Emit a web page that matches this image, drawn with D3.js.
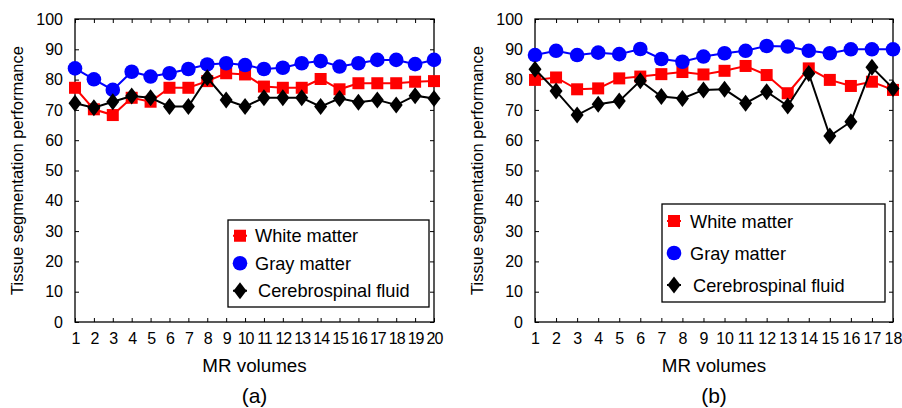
<!DOCTYPE html>
<html>
<head>
<meta charset="utf-8">
<script src="https://cdn.jsdelivr.net/npm/d3@7"></script>
<style>
  body { margin: 0; background: #fff; }
  text { font-family: "Liberation Sans", Arial, Helvetica, sans-serif; }
</style>
</head>
<body>
<script>
(function() {
  const seriesNames = ['White matter', 'Gray matter', 'Cerebrospinal fluid'];
  const yTicks = [0, 10, 20, 30, 40, 50, 60, 70, 80, 90, 100];

  // panel (a): 20 MR volumes
  const volumesA = d3.range(1, 21);
  const whiteA = [77.3, 70.2, 68.3, 74.0, 72.7, 77.3, 77.3, 79.5, 82.1, 81.7,
                  77.7, 77.3, 77.3, 80.2, 76.8, 78.8, 78.8, 78.8, 79.3, 79.5];
  const grayA = [83.7, 80.1, 76.6, 82.6, 81.0, 82.1, 83.5, 85.0, 85.4, 84.8,
                 83.5, 83.9, 85.4, 86.1, 84.3, 85.4, 86.5, 86.5, 85.1, 86.5];
  const csfA = [72.2, 70.7, 72.7, 74.6, 74.0, 71.1, 71.1, 80.6, 73.3, 71.1,
                74.0, 74.0, 74.0, 71.1, 73.8, 72.5, 73.3, 71.6, 74.7, 73.8];

  // panel (b): 18 MR volumes
  const volumesB = d3.range(1, 19);
  const whiteB = [79.9, 80.7, 76.8, 77.1, 80.4, 81.0, 81.8, 82.5, 81.7, 82.9,
                  84.5, 81.5, 75.5, 83.7, 79.9, 77.9, 79.3, 76.6];
  const grayB = [88.1, 89.5, 88.1, 88.9, 88.4, 90.1, 86.8, 85.9, 87.6, 88.7,
                 89.5, 91.1, 90.9, 89.5, 88.7, 90.0, 90.0, 90.0];
  const csfB = [83.4, 76.2, 68.3, 71.9, 72.9, 79.6, 74.4, 73.8, 76.6, 76.8,
                72.2, 76.0, 71.3, 82.0, 61.4, 66.1, 84.1, 77.1];

  const colors = ['#ff0000', '#0000ff', '#000000'];
  const shapes = ['square', 'circle', 'diamond'];

  const svg = d3.select('body').append('svg').attr('width', 902).attr('height', 408);

  function marker(sel, shape, color) {
    if (shape === 'square') {
      sel.append('rect').attr('x', -6).attr('y', -6).attr('width', 12).attr('height', 12).attr('fill', color);
    } else if (shape === 'circle') {
      sel.append('circle').attr('r', 7.3).attr('fill', color);
    } else {
      sel.append('path').attr('d', 'M0,-8.5L6.5,0L0,8.5L-6.5,0Z').attr('fill', color);
    }
  }

  function drawPanel(left, right, volumes, series, label, legendBox) {
    const top = 19, bottom = 322;
    const x = d3.scaleLinear().domain([1, volumes.length]).range([left, right]);
    const y = d3.scaleLinear().domain([0, 100]).range([bottom, top]);
    const g = svg.append('g');

    // frame
    g.append('rect').attr('x', left).attr('y', top).attr('width', right - left).attr('height', bottom - top)
      .attr('fill', 'none').attr('stroke', '#000').attr('stroke-width', 1.3);

    // axes with inward ticks
    const xb = g.append('g').attr('transform', 'translate(0,' + bottom + ')')
      .call(d3.axisBottom(x).tickValues(volumes).tickFormat(d3.format('d')).tickSizeInner(-4).tickSizeOuter(0).tickPadding(11));
    const xt = g.append('g').attr('transform', 'translate(0,' + top + ')')
      .call(d3.axisTop(x).tickValues(volumes).tickFormat('').tickSizeInner(-4).tickSizeOuter(0));
    const yl = g.append('g').attr('transform', 'translate(' + left + ',0)')
      .call(d3.axisLeft(y).tickValues(yTicks).tickSizeInner(-4).tickSizeOuter(0).tickPadding(12));
    const yr = g.append('g').attr('transform', 'translate(' + right + ',0)')
      .call(d3.axisRight(y).tickValues(yTicks).tickFormat('').tickSizeInner(-4).tickSizeOuter(0));
    [xb, xt, yl, yr].forEach(function(a) {
      a.select('.domain').remove();
      a.selectAll('line').attr('stroke', '#000');
      a.selectAll('text').attr('font-size', 16).attr('fill', '#000');
    });
    xb.selectAll('text').attr('letter-spacing', volumes.length > 19 ? '-1px' : null);

    // series
    series.forEach(function(values, i) {
      const pts = values.map(function(v, j) { return [volumes[j], v]; });
      g.append('path').datum(pts)
        .attr('fill', 'none').attr('stroke', colors[i]).attr('stroke-width', 2)
        .attr('d', d3.line().x(function(d) { return x(d[0]); }).y(function(d) { return y(d[1]); }));
      g.append('g').selectAll('g').data(pts).enter().append('g')
        .attr('transform', function(d) { return 'translate(' + x(d[0]) + ',' + y(d[1]) + ')'; })
        .each(function() { marker(d3.select(this), shapes[i], colors[i]); });
    });

    // axis titles
    g.append('text').attr('x', (left + right) / 2).attr('y', 372).attr('text-anchor', 'middle')
      .attr('font-size', 18.8).text('MR volumes');
    g.append('text').attr('x', (left + right) / 2).attr('y', 403).attr('text-anchor', 'middle')
      .attr('font-size', 21).text(label);
    g.append('text').attr('transform', 'translate(' + (left - 52) + ',' + ((top + bottom) / 2) + ') rotate(-90)')
      .attr('text-anchor', 'middle').attr('font-size', 16.5).text('Tissue segmentation performance');

    // legend
    const lg = g.append('g');
    lg.append('rect').attr('x', legendBox.x).attr('y', legendBox.y).attr('width', legendBox.w).attr('height', legendBox.h)
      .attr('fill', '#fff').attr('stroke', '#000').attr('stroke-width', 1.3);
    seriesNames.forEach(function(name, i) {
      const cy = legendBox.y + legendBox.step * (i + 0.5) + legendBox.pad;
      const mk = lg.append('g').attr('transform', 'translate(' + (legendBox.x + 12) + ',' + cy + ')');
      mk.append('line').attr('x1', -7).attr('x2', 7).attr('stroke', colors[i]).attr('stroke-width', 2);
      marker(mk, shapes[i], colors[i]);
      lg.append('text').attr('x', legendBox.x + legendBox.tx + (i === 2 ? 3 : 0)).attr('y', cy + 6.5)
        .attr('font-size', 18.2).text(name);
    });
  }

  drawPanel(75, 434, volumesA, [whiteA, grayA, csfA], '(a)',
    { x: 228, y: 220, w: 201, h: 87, step: 27.5, pad: 2, tx: 27 });
  drawPanel(535, 893, volumesB, [whiteB, grayB, csfB], '(b)',
    { x: 662, y: 204, w: 223, h: 98, step: 32, pad: 1, tx: 28 });
})();
</script>
</body>
</html>
